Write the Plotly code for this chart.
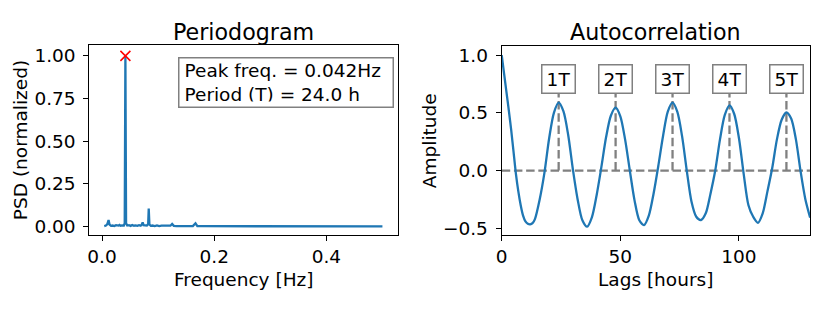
import plotly.graph_objects as go

# ---------------- data ----------------
freq = [0.004, 0.007, 0.0095, 0.0117, 0.0135, 0.016, 0.019, 0.022, 0.025, 0.028, 0.0295,
        0.031, 0.033, 0.036, 0.039, 0.0405, 0.0417, 0.0429, 0.045, 0.048, 0.051, 0.054,
        0.057, 0.060, 0.063, 0.066, 0.069, 0.071, 0.0725, 0.074, 0.077, 0.080, 0.0823,
        0.0833, 0.0845, 0.087, 0.090, 0.094, 0.098, 0.102, 0.106, 0.110, 0.114, 0.118,
        0.122, 0.125, 0.128, 0.133, 0.138, 0.143, 0.150, 0.156, 0.162, 0.1667, 0.170,
        0.178, 0.190, 0.210, 0.250, 0.300, 0.350, 0.400, 0.450, 0.500]
psd = [0.003, 0.006, 0.014, 0.038, 0.011, 0.004, 0.006, 0.003, 0.008, 0.004, 0.006,
       0.010, 0.005, 0.007, 0.006, 0.020, 1.000, 0.020, 0.006, 0.008, 0.004, 0.009,
       0.005, 0.007, 0.004, 0.008, 0.005, 0.012, 0.025, 0.008, 0.005, 0.006, 0.015,
       0.105, 0.012, 0.004, 0.006, 0.003, 0.007, 0.003, 0.005, 0.004, 0.006, 0.003,
       0.005, 0.015, 0.004, 0.003, 0.004, 0.002, 0.003, 0.002, 0.003, 0.019, 0.003,
       0.002, 0.002, 0.0015, 0.0012, 0.001, 0.0012, 0.0008, 0.0009, 0.0008]
peak_freq = 0.0417
peak_psd = 1.0

lags = [0, 1, 2, 3, 4, 5, 6, 7, 8, 9, 10, 11, 12, 13, 14, 16, 18, 20, 22, 24, 26, 28,
        30, 32, 34, 36, 38, 40, 42, 44, 46, 48, 50, 52, 54, 56, 58, 60, 62, 64, 66, 68,
        70, 72, 74, 76, 78, 80, 82, 84, 86, 88, 90, 92, 94, 96, 98, 100, 102, 104, 106,
        108, 110, 112, 114, 116, 118, 120, 122, 124, 126, 128, 130]
acf = [1.0, 0.84, 0.68, 0.52, 0.35, 0.16, -0.03, -0.18, -0.30, -0.39, -0.44, -0.46,
       -0.465, -0.455, -0.42, -0.25, -0.02, 0.28, 0.50, 0.588, 0.514, 0.31, 0.01, -0.25,
       -0.43, -0.486, -0.405, -0.213, 0.03, 0.29, 0.475, 0.545, 0.47, 0.27, 0.0, -0.26,
       -0.43, -0.472, -0.39, -0.20, 0.04, 0.30, 0.51, 0.588, 0.51, 0.30, 0.0, -0.27,
       -0.40, -0.428, -0.37, -0.20, 0.0, 0.27, 0.48, 0.565, 0.49, 0.28, -0.03, -0.30,
       -0.40, -0.452, -0.37, -0.18, 0.02, 0.27, 0.44, 0.503, 0.45, 0.27, -0.01, -0.25,
       -0.407]
period_lags = [24, 48, 72, 96, 120]
period_labels = ["1T", "2T", "3T", "4T", "5T"]
marker_top = 0.70
label_y = 0.793

peak_text = "Peak freq. = 0.042Hz<br>Period (T) = 24.0 h"

# ---------------- figure ----------------
BLUE = "#1f77b4"
GRAY = "#808080"
FONT = "DejaVu Sans"
FS = 18.5
DASH = "8.5px,3.7px"

fig = go.Figure()

fig.add_trace(go.Scatter(x=freq, y=psd, mode="lines",
                         line=dict(color=BLUE, width=2.3),
                         xaxis="x", yaxis="y", showlegend=False))
fig.add_trace(go.Scatter(x=[peak_freq], y=[peak_psd], mode="markers",
                         marker=dict(symbol="x-thin", size=10, color="red",
                                     line=dict(color="red", width=1.6)),
                         xaxis="x", yaxis="y", showlegend=False))

# zero line
fig.add_trace(go.Scatter(x=[0, 130], y=[0, 0], mode="lines",
                         line=dict(color=GRAY, width=2.3, dash=DASH),
                         xaxis="x2", yaxis="y2", showlegend=False))
for L in period_lags:
    fig.add_trace(go.Scatter(x=[L, L], y=[0, marker_top], mode="lines",
                             line=dict(color=GRAY, width=2.3, dash=DASH),
                             xaxis="x2", yaxis="y2", showlegend=False))
fig.add_trace(go.Scatter(x=lags, y=acf, mode="lines",
                         line=dict(color=BLUE, width=2.3, shape="spline", smoothing=0.8),
                         xaxis="x2", yaxis="y2", showlegend=False))

axis_common = dict(showline=True, linecolor="black", linewidth=1.2, mirror=True,
                   ticks="outside", ticklen=5, tickwidth=1.2, tickcolor="black",
                   showgrid=False, zeroline=False,
                   tickfont=dict(family=FONT, size=FS, color="black"))

fig.update_layout(
    width=830, height=312,
    margin=dict(l=0, r=0, t=0, b=0),
    paper_bgcolor="white", plot_bgcolor="white",
    hovermode=False,
    font=dict(family=FONT, size=FS, color="black"),
    xaxis=dict(domain=[0.1012, 0.4759], range=[-0.0225, 0.528],
               tickvals=[0.0, 0.2, 0.4], ticktext=["0.0", "0.2", "0.4"],
               anchor="y", **axis_common),
    yaxis=dict(domain=[0.2375, 0.8558], range=[-0.05, 1.062],
               tickvals=[0, 0.25, 0.5, 0.75, 1.0],
               ticktext=["0.00", "0.25", "0.50", "0.75", "1.00"],
               ticklabelstandoff=4, anchor="x", **axis_common),
    xaxis2=dict(domain=[0.6016, 0.9759], range=[0, 130],
                tickvals=[0, 50, 100], anchor="y2", **axis_common),
    yaxis2=dict(domain=[0.2381, 0.8535], range=[-0.557, 1.079],
                tickvals=[-0.5, 0.0, 0.5, 1.0],
                ticktext=["\u22120.5", "0.0", "0.5", "1.0"],
                ticklabelstandoff=4, anchor="x2", **axis_common),
)

ann = []
# titles
ann.append(dict(text="Periodogram", x=0.2886, y=1 - 31.5 / 312, xref="paper", yref="paper",
                xanchor="center", yanchor="middle", showarrow=False,
                font=dict(family=FONT, size=22.2, color="black")))
ann.append(dict(text="Autocorrelation", x=0.7887, y=1 - 31.5 / 312, xref="paper", yref="paper",
                xanchor="center", yanchor="middle", showarrow=False,
                font=dict(family=FONT, size=22.2, color="black")))
# axis titles
ann.append(dict(text="Frequency [Hz]", x=0.2886, y=1 - 283 / 312, xref="paper", yref="paper",
                xanchor="center", yanchor="middle", showarrow=False,
                font=dict(family=FONT, size=FS)))
ann.append(dict(text="Lags [hours]", x=0.7887, y=1 - 283 / 312, xref="paper", yref="paper",
                xanchor="center", yanchor="middle", showarrow=False,
                font=dict(family=FONT, size=FS)))
ann.append(dict(text="PSD (normalized)", x=14 / 830, y=1 - 141.5 / 312, xref="paper",
                yref="paper", xanchor="center", yanchor="middle", showarrow=False,
                textangle=-90, font=dict(family=FONT, size=FS)))
ann.append(dict(text="Amplitude", x=426 / 830, y=1 - 141.5 / 312, xref="paper",
                yref="paper", xanchor="center", yanchor="middle", showarrow=False,
                textangle=-90, font=dict(family=FONT, size=FS)))
# peak text box
ann.append(dict(text=peak_text, x=282 / 830, y=1 - 82.8 / 312, xref="paper", yref="paper",
                xanchor="center", yanchor="middle", showarrow=False, align="left",
                width=203, height=38, borderpad=5, borderwidth=1.5, bordercolor=GRAY,
                bgcolor="white", font=dict(family=FONT, size=FS)))
# period labels
for L, lab in zip(period_lags, period_labels):
    ann.append(dict(text=lab, x=L, y=label_y, xref="x2", yref="y2",
                    xanchor="center", yanchor="middle", showarrow=False,
                    width=26, height=21, borderpad=3, borderwidth=1.5, bordercolor=GRAY,
                    bgcolor="white", font=dict(family=FONT, size=FS)))
fig.update_layout(annotations=ann)

fig.write_html("out.html", config={"displayModeBar": False},
               post_script="document.body.style.margin='0px';document.body.style.overflow='hidden';")
